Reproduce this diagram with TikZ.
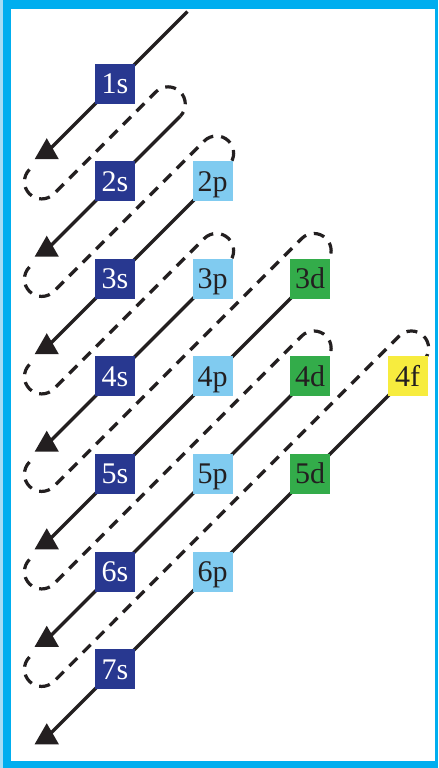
\documentclass[tikz,border=0pt]{standalone}
\usepackage{fontspec}
\setmainfont{Liberation Serif}
\definecolor{FrameCyan}{RGB}{0,174,239}
\definecolor{FrameLight}{RGB}{166,221,245}
\definecolor{OrbS}{RGB}{40,56,144}
\definecolor{OrbP}{RGB}{128,203,240}
\definecolor{OrbD}{RGB}{51,172,74}
\definecolor{OrbF}{RGB}{247,236,62}
\definecolor{Ink}{RGB}{35,31,32}
\usetikzlibrary{shapes.geometric,calc}

\begin{document}
\begin{tikzpicture}[x=48.75pt,y=48.75pt,
  orb/.style={minimum size=20pt,inner sep=0pt,text height=10pt,text depth=0pt,
    font=\fontsize{15}{15}\selectfont,text=Ink},
  sorb/.style={orb,fill=OrbS,text=white},
  porb/.style={orb,fill=OrbP},
  dorb/.style={orb,fill=OrbD},
  forb/.style={orb,fill=OrbF},
  diagline/.style={Ink,line width=1.6pt},
  loopline/.style={Ink,line width=1.6pt,dash pattern=on 5.5pt off 4pt},
  headtri/.style={regular polygon,regular polygon sides=3,minimum size=14pt,
    inner sep=0pt,fill=Ink}]
% frame
\fill[FrameLight] (-1.1795,0.8615) rectangle (3.3128,-7.0154);
\fill[FrameCyan] (-1.1487,0.8615) rectangle (3.3128,-7.0154);
\fill[white] (-1.0667,0.7692) rectangle (3.2769,-6.9385);
% ends of the diagonals
\coordinate (t1) at (0.743,0.743);
\coordinate (t2) at (0.669,-0.331);
\coordinate (t3) at (1.165,-0.835);
\coordinate (t4) at (1.165,-1.835);
\coordinate (t5) at (2.165,-1.835);
\coordinate (t6) at (2.165,-2.835);
\coordinate (t7) at (3.165,-2.835);
\foreach \k in {1,...,7}{
  \coordinate (a\k) at (-0.70,{0.30-\k});
  \coordinate (b\k) at (-0.877,{0.123-\k});
}
% filling order
\foreach \k in {1,...,7}
  \draw[diagline] (t\k) -- (a\k);
\foreach \k [evaluate=\k as \j using int(\k+1)] in {1,...,6}
  \draw[loopline] (b\k) arc[start angle=135,end angle=315,radius=0.1768]
    -- ($(t\j)+(-0.25,0.25)$) arc[start angle=135,end angle=-45,radius=0.1768];
\foreach \k in {1,...,7}
  \node[headtri] (h\k) at (a\k) {};
% orbitals
\foreach \n in {1,...,7}
  \node[sorb] (s\n) at (0,{1-\n}) {\n s};
\foreach \n in {2,...,6}
  \node[porb] (p\n) at (1,{1-\n}) {\n p};
\foreach \n in {3,...,5}
  \node[dorb] (d\n) at (2,{1-\n}) {\n d};
\node[forb] (f4) at (3,-3) {4f};
\end{tikzpicture}
\end{document}
